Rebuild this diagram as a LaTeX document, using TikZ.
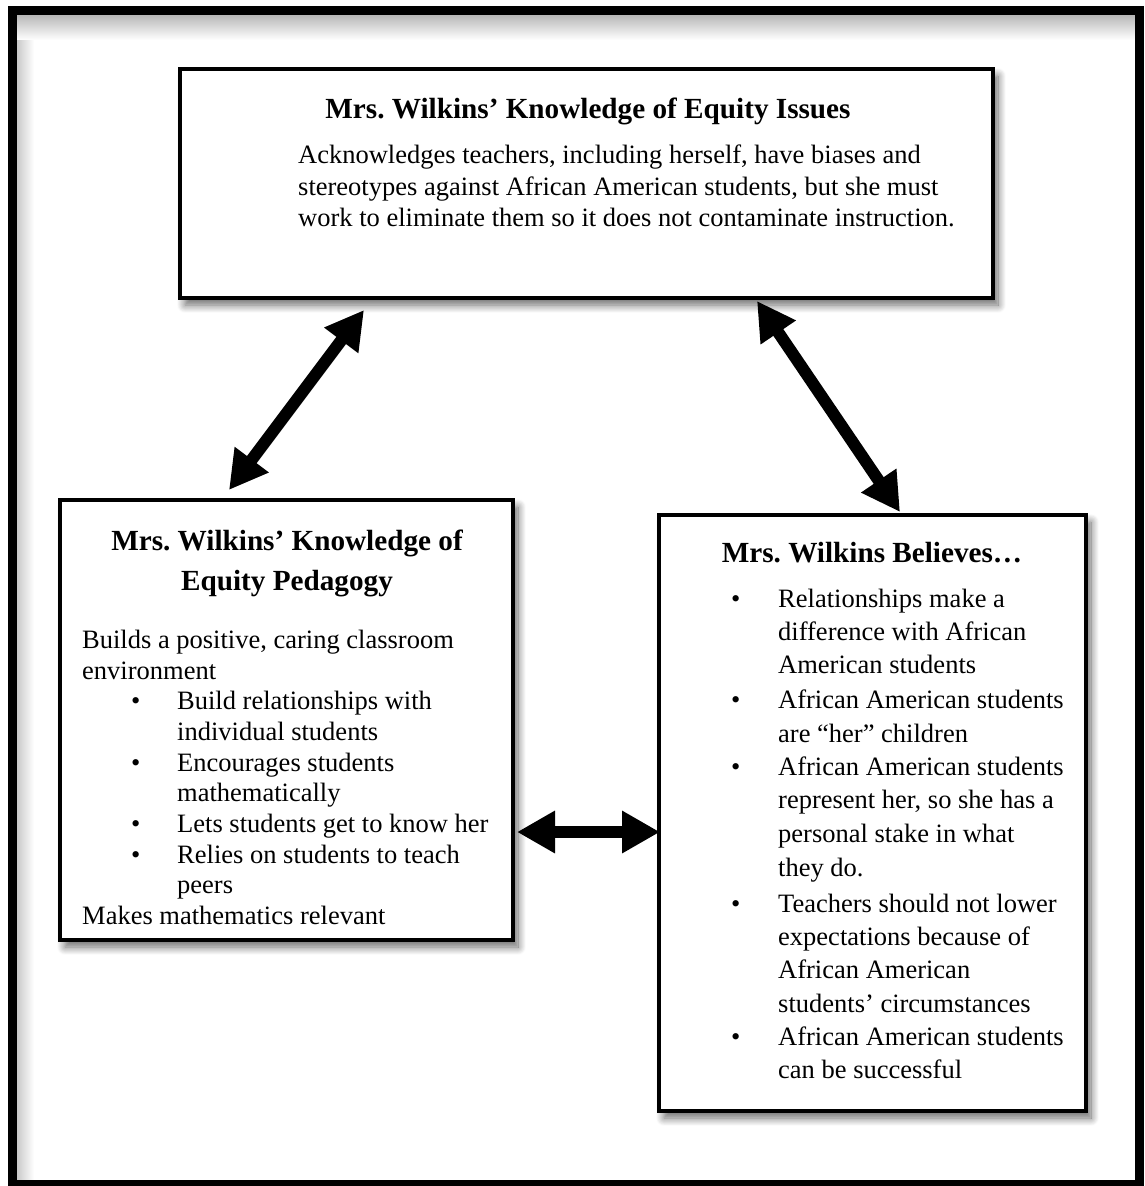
\documentclass[tikz,border=0pt]{standalone}
\usepackage{fontspec}
\setmainfont{Liberation Serif}
\usetikzlibrary{arrows.meta,calc,shadows.blur}

\newcommand\bodysize{\fontsize{26.5}{32}\selectfont}
\newcommand\headsize{\fontsize{29.2}{40}\selectfont\bfseries}

\begin{document}
\frenchspacing
\begin{tikzpicture}[x=1pt,y=-1pt,
  panel/.style={draw=black, line width=3.5pt, fill=white, inner sep=0pt, outer sep=0pt,
    anchor=north west,
    blur shadow={shadow xshift=5pt, shadow yshift=-7pt, shadow blur radius=8pt,
                 shadow blur steps=14, shadow opacity=60}},
  bodytext/.style={font=\bodysize, inner sep=0pt, anchor=base west},
  headtext/.style={font=\headsize, inner sep=0pt, anchor=base},
  dot/.style={font=\bodysize, inner sep=0pt, anchor=base west},
  link/.style={line width=12pt,
    {Triangle[length=38pt,width=40pt]}-{Triangle[length=38pt,width=40pt]}}
]
\useasboundingbox (0,0) rectangle (1144,1186);

% outer frame with its inner shading along the top and left edges
\shade[top color=black!28, bottom color=white] (16,15) rectangle (1135,40);
\shade[left color=black!22, right color=white] (16,40) rectangle (34,1180);
\draw[line width=9pt] (12,10.5) rectangle (1139.5,1184);

% panels
\node[panel, minimum width=813pt, minimum height=229pt] (issues) at (180,69) {};
\node[panel, minimum width=453pt, minimum height=440pt] (pedagogy) at (60,500) {};
\node[panel, minimum width=427pt, minimum height=596pt] (beliefs) at (659,515) {};

% top panel text
\node[headtext] (issues-head) at (588,118) {Mrs. Wilkins’ Knowledge of Equity Issues};
\foreach \y/\t [count=\k] in {
  163/{Acknowledges teachers, including herself, have biases and},
  195/{stereotypes against African American students, but she must},
  226/{work to eliminate them so it does not contaminate instruction.}}
  \node[bodytext] (issues-\k) at (298,\y) {\t};

% left panel text
\node[headtext] (ped-head1) at (287,550) {Mrs. Wilkins’ Knowledge of};
\node[headtext] (ped-head2) at (287,590) {Equity Pedagogy};
\foreach \y/\t [count=\k] in {
  648/{Builds a positive, caring classroom},
  679/{environment},
  924/{Makes mathematics relevant}}
  \node[bodytext] (ped-\k) at (82,\y) {\t};
\foreach \y/\t [count=\k] in {
  709/{Build relationships with},
  740/{individual students},
  771/{Encourages students},
  801/{mathematically},
  832/{Lets students get to know her},
  863/{Relies on students to teach},
  893/{peers}}
  \node[bodytext] (ped-item-\k) at (177,\y) {\t};
\foreach \y [count=\k] in {709,771,832,863}
  \node[dot] (ped-dot-\k) at (131,\y) {•};

% right panel text
\node[headtext] (bel-head) at (872,562) {Mrs. Wilkins Believes…};
\foreach \y/\t [count=\k] in {
  607/{Relationships make a},
  640/{difference with African},
  673/{American students},
  708/{African American students},
  742/{are “her” children},
  775/{African American students},
  808/{represent her, so she has a},
  842/{personal stake in what},
  876/{they do.},
  912/{Teachers should not lower},
  945/{expectations because of},
  978/{African American},
  1012/{students’ circumstances},
  1045/{African American students},
  1078/{can be successful}}
  \node[bodytext] (bel-item-\k) at (778,\y) {\t};
\foreach \y [count=\k] in {607,708,775,912,1045}
  \node[dot] (bel-dot-\k) at (731,\y) {•};

% two-way links between the panels
\draw[link] ($(pedagogy.north west)+(169,-10)$) -- ($(issues.south west)+(184,12)$);
\draw[link] ($(issues.south west)+(577,3)$) -- ($(beliefs.north west)+(241,-3)$);
\draw[link] ($(pedagogy.north east)+(4,332)$) -- ($(beliefs.north west)+(1,317)$);
\end{tikzpicture}
\end{document}
